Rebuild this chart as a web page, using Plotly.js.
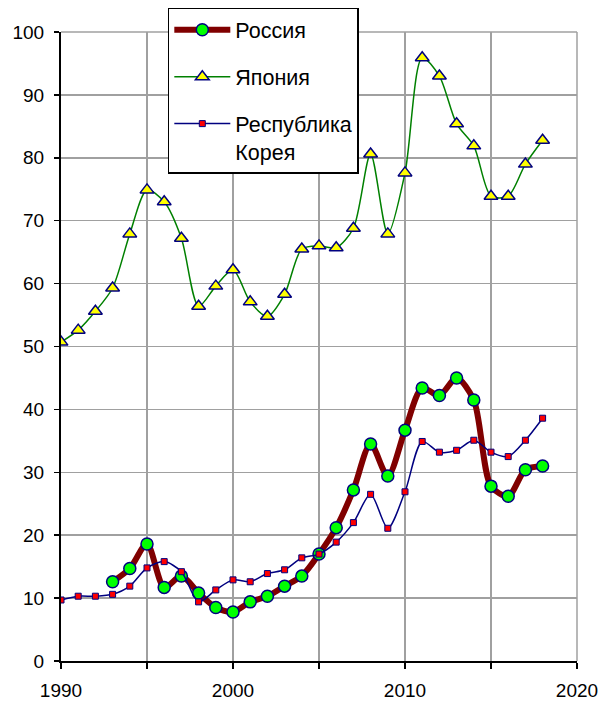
<!DOCTYPE html>
<html>
<head>
<meta charset="utf-8">
<script src="https://cdn.plot.ly/plotly-3.0.1.min.js"></script>
<style>html,body{margin:0;padding:0;background:#fff;}#chart{width:605px;height:704px;}</style>
</head>
<body>
<div id="chart"></div>
<script>
const yearsAll = [1990,1991,1992,1993,1994,1995,1996,1997,1998,1999,2000,2001,2002,2003,2004,2005,2006,2007,2008,2009,2010,2011,2012,2013,2014,2015,2016,2017,2018];
const yearsRussia = [1993,1994,1995,1996,1997,1998,1999,2000,2001,2002,2003,2004,2005,2006,2007,2008,2009,2010,2011,2012,2013,2014,2015,2016,2017,2018];
const russia = [12.6,14.7,18.6,11.7,13.5,10.8,8.5,7.8,9.4,10.3,11.9,13.5,17.0,21.2,27.2,34.5,29.4,36.7,43.4,42.2,45.0,41.5,27.8,26.2,30.4,31.0];
const japan = [50.7,52.6,55.6,59.3,67.9,74.9,73.0,67.2,56.4,59.6,62.2,57.1,54.8,58.3,65.5,66.0,65.7,68.8,80.6,67.9,77.6,95.9,93.0,85.4,81.9,73.9,73.9,79.0,82.8];
const korea = [9.7,10.3,10.3,10.6,11.9,14.8,15.8,14.2,9.4,11.3,12.9,12.6,13.9,14.5,16.4,17.0,18.9,22.0,26.5,21.1,26.9,34.9,33.2,33.5,35.1,33.2,32.5,35.1,38.6];
const names = ['Россия','Япония','Республика<br>Корея'];
const xTickVals = [1990,1995,2000,2005,2010,2015,2020];
const xTickText = ['1990','','2000','','2010','','2020'];
const yTicks = [0,10,20,30,40,50,60,70,80,90,100];

const traces = [
  {x: yearsRussia, y: russia, name: names[0], type:'scatter', mode:'lines+markers', legendgroup:'a',
   line:{color:'#800000', width:6, shape:'spline', smoothing:0.8},
   marker:{symbol:'circle', size:12, color:'#00ff00', line:{color:'#000080', width:1.5}}},
  {x: yearsAll, y: japan, name: names[1], type:'scatter', mode:'lines+markers', legendgroup:'b',
   line:{color:'#008000', width:1.5, shape:'spline', smoothing:0.8},
   marker:{symbol:'triangle-up', size:12, color:'#ffff00', line:{color:'#000080', width:1.5}}},
  {x: yearsAll, y: korea, name: names[2], type:'scatter', mode:'lines+markers', legendgroup:'c',
   line:{color:'#000080', width:1.5, shape:'spline', smoothing:0.8},
   marker:{symbol:'square', size:6, color:'#ff0000', line:{color:'#000080', width:1}}}
];

const layout = {
  width:605, height:704,
  margin:{l:61, r:28, t:32, b:43, autoexpand:false},
  paper_bgcolor:'#fff', plot_bgcolor:'#fff',
  font:{family:'Liberation Sans, Arial, sans-serif', size:19, color:'#000'},
  showlegend:true,
  legend:{x:0.207, y:0.989, yref:'container', xanchor:'left', yanchor:'top', bgcolor:'#fff', bordercolor:'#000', borderwidth:1.5,
          font:{size:21.5}, tracegroupgap:16, traceorder:'grouped', valign:'top', itemwidth:56},
  xaxis:{range:[1990,2020], tickvals:xTickVals, ticktext:xTickText, showgrid:true, gridcolor:'#a0a0a0', gridwidth:1.5,
         showline:true, linecolor:'#000', linewidth:2, ticks:'outside', ticklen:6, tickcolor:'#000', tickwidth:1.5, zeroline:false,
         ticklabelstandoff:5},
  yaxis:{range:[0,100], tickvals:yTicks, ticktext:yTicks.map(String), showgrid:true, gridcolor:'#a0a0a0', gridwidth:1.5,
         showline:true, linecolor:'#000', linewidth:2, ticks:'outside', ticklen:5, tickcolor:'#000', tickwidth:1.5, zeroline:false,
         ticklabelstandoff:6},
  shapes:[
    {type:'line', xref:'paper', yref:'paper', x0:1, x1:1, y0:0, y1:1, line:{color:'#a0a0a0', width:1.5}},
    {type:'line', xref:'paper', yref:'paper', x0:0, x1:1, y0:1, y1:1, line:{color:'#a0a0a0', width:1.5}}
  ]
};

Plotly.newPlot('chart', traces, layout, {displayModeBar:false, staticPlot:true});
</script>
</body>
</html>
